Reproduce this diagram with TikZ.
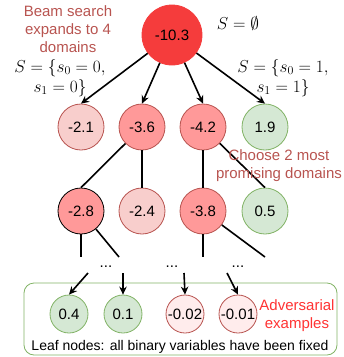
\documentclass[tikz,border=0pt]{standalone}
\usepackage{fontspec}
\setmainfont{Liberation Sans}
\usetikzlibrary{arrows.meta}
\definecolor{rootfill}{RGB}{245,60,60}
\definecolor{midred}{RGB}{255,153,153}
\definecolor{palered}{RGB}{248,206,204}
\definecolor{faintred}{RGB}{255,236,236}
\definecolor{redline}{RGB}{184,84,80}
\definecolor{greenfill}{RGB}{213,232,212}
\definecolor{greenline}{RGB}{130,179,102}
\definecolor{brightred}{RGB}{255,51,51}
\begin{document}
\begin{tikzpicture}[x=1pt,y=-1pt,
  num/.style={circle,inner sep=0pt,font=\fontsize{15}{18}\selectfont,line width=0.8pt},
  big/.style={num,minimum size=60pt,fill=rootfill,draw=rootfill},
  mid/.style={num,minimum size=46pt},
  leaf/.style={num,minimum size=38pt},
  hot/.style={fill=midred,draw=redline},
  warm/.style={fill=palered,draw=redline},
  faint/.style={fill=faintred,draw=redline},
  good/.style={fill=greenfill,draw=greenline},
  arr/.style={line width=1.6pt,-{Stealth[length=8pt,width=7.5pt]}},
  edge/.style={line width=1.6pt},
  note/.style={text=redline,align=center,inner sep=0.5pt,font=\fontsize{15}{18}\selectfont},
  mathnote/.style={align=center,inner sep=0.5pt,font=\fontsize{16.5}{20}\selectfont},
]
\useasboundingbox (0,0) rectangle (344,357);

% leaf frame
\draw[greenline,line width=0.8pt,rounded corners=10pt] (24,283) rectangle (337,355);

% tree nodes
\node[big] (root) at (172,35) {-10.3};
\node[mid,warm] (a1) at (81,127) {-2.1};
\node[mid,hot]  (a2) at (142,127) {-3.6};
\node[mid,hot]  (a3) at (203,127) {-4.2};
\node[mid,good] (a4) at (265,127) {1.9};
\node[mid,hot,draw=black] (b1) at (81,211) {-2.8};
\node[mid,warm] (b2) at (142,211) {-2.4};
\node[mid,hot]  (b3) at (203,211) {-3.8};
\node[mid,good] (b4) at (265,211) {0.5};
\node[leaf,good]  (c1) at (69,314) {0.4};
\node[leaf,good]  (c2) at (123,314) {0.1};
\node[leaf,faint] (c3) at (185,314) {-0.02};
\node[leaf,faint] (c4) at (238,314) {-0.01};

% elided levels
\node[font=\fontsize{15}{18}\selectfont,anchor=base] (d1) at (106,267) {...};
\node[font=\fontsize{15}{18}\selectfont,anchor=base] (d2) at (172,267) {...};
\node[font=\fontsize{15}{18}\selectfont,anchor=base] (d3) at (238,267) {...};
\coordinate (e1) at (81,257);
\coordinate (e2) at (119,257);
\coordinate (e3) at (203,257);
\coordinate (e4) at (265,257);
\coordinate (f1) at (88,273);
\coordinate (f2) at (123,273);
\coordinate (f3) at (184,273);
\coordinate (f4) at (227,273);

% expansion of the root
\draw[arr] (root) -- (a1.north);
\draw[arr] (root) -- (a2.north);
\draw[arr] (root) -- (a3.north);
\draw[arr] (root) -- (a4.north);

% second level
\draw[edge] (a2) -- (b1.north);
\draw[edge] (a2) -- (b2);
\draw[edge] (a3) -- (b3);
\draw[edge] (a3) -- (b4.north);

% towards the leaves
\draw[edge] (b1) -- (e1);
\draw[edge] (b1) -- (e2);
\draw[edge] (b3) -- (e3);
\draw[edge] (b3) -- (e4);
\draw[arr] (f1) -- (c1.north);
\draw[arr] (f2) -- (c2.north);
\draw[arr] (f3) -- (c3.north);
\draw[arr] (f4) -- (c4.north);

% annotations
\node[note] (t1) at (68,29) {Beam search\\expands to 4\\domains};
\node[note] (t2) at (279,166) {Choose 2 most\\promising domains};
\node[note,text=brightred] (t3) at (297,316) {Adversarial\\examples};
\node[font=\fontsize{14}{17}\selectfont] (t4) at (180,347) {Leaf nodes: all binary variables have been fixed};
\node[mathnote] (s0) at (238,23) {$S=\emptyset$};
\node[mathnote] (s1) at (60,78) {$S=\{s_0=0,$\\$s_1=0\}$};
\node[mathnote] (s2) at (283,78) {$S=\{s_0=1,$\\$s_1=1\}$};
\end{tikzpicture}
\end{document}
